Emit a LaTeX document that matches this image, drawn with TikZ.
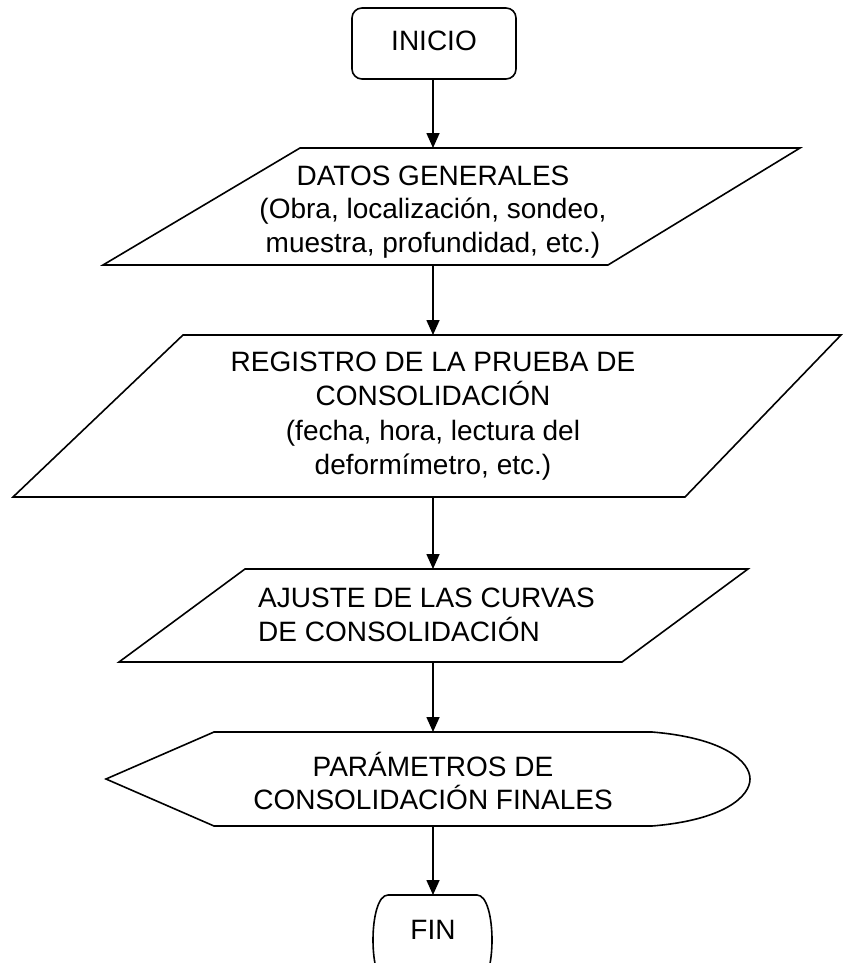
\documentclass[tikz,border=0pt]{standalone}
\usepackage{fontspec}
\setmainfont{Liberation Sans}
\usetikzlibrary{arrows.meta}
\begin{document}
\begin{tikzpicture}[x=1pt,y=-1pt,
  shp/.style={draw=black,line width=1.6pt,fill=white,line join=miter},
  lbl/.style={inner sep=0pt,align=center,font=\fontsize{28}{33.5}\selectfont},
  flow/.style={line width=1.6pt,-{Triangle[length=15pt,width=13pt]}}]
\useasboundingbox (0,0) rectangle (843,963);
% INICIO
\draw[shp,rounded corners=10pt] (352,8) rectangle (516,79);
\node[lbl] (inicio) at (434,41) {INICIO};
\coordinate (inicioB) at (433,79);
% DATOS
\draw[shp] (300,148) -- (800,148) -- (608,265) -- (103,265) -- cycle;
\node[lbl] (datos) at (433,212) {DATOS GENERALES\\(Obra, localización, sondeo,\\muestra, profundidad, etc.)};
\coordinate (datosT) at (433,148);
\coordinate (datosB) at (433,265);
% REGISTRO
\draw[shp] (183,335) -- (841,335) -- (685,497) -- (13,497) -- cycle;
\node[lbl,font=\fontsize{28}{34.3}\selectfont] (registro) at (433,416) {REGISTRO DE LA PRUEBA DE\\CONSOLIDACIÓN\\(fecha, hora, lectura del\\deformímetro, etc.)};
\coordinate (registroT) at (433,335);
\coordinate (registroB) at (433,497);
% AJUSTE
\draw[shp] (245,569) -- (748,569) -- (622,662) -- (119,662) -- cycle;
\node[lbl,align=left,anchor=west] (ajuste) at (258,615) {AJUSTE DE LAS CURVAS\\DE CONSOLIDACIÓN};
\coordinate (ajusteT) at (433,569);
\coordinate (ajusteB) at (433,662);
% PARAMETROS (display)
\draw[shp] (214,732) -- (652,732) .. controls (725,738) and (750,762) .. (750,779)
  .. controls (750,796) and (725,820) .. (652,826) -- (214,826) -- (106,779) -- cycle;
\node[lbl] (param) at (433,781) {PARÁMETROS DE\\CONSOLIDACIÓN FINALES};
\coordinate (paramT) at (433,732);
\coordinate (paramB) at (433,826);
% FIN
\draw[shp] (388,895) -- (477,895) .. controls (497,895) and (497,985) .. (477,985)
  -- (388,985) .. controls (368,985) and (368,895) .. (388,895) -- cycle;
\node[lbl] (fin) at (433,930) {FIN};
\coordinate (finT) at (433,895);
% arrows
\draw[flow] (inicioB) -- (datosT);
\draw[flow] (datosB) -- (registroT);
\draw[flow] (registroB) -- (ajusteT);
\draw[flow] (ajusteB) -- (paramT);
\draw[flow] (paramB) -- (finT);
\end{tikzpicture}
\end{document}
